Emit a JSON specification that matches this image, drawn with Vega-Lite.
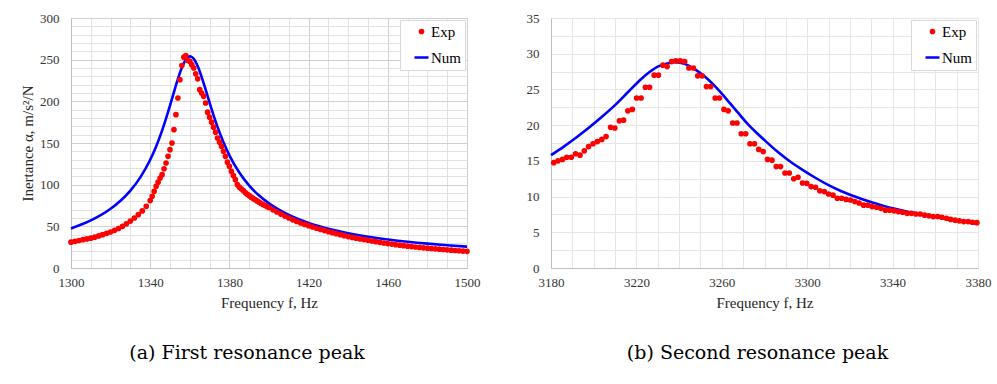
{
  "$schema": "https://vega.github.io/schema/vega-lite/v6.json",
  "background": "white",
  "padding": {"left": 20, "top": 11, "right": 5, "bottom": 5},
  "config": {
    "font": "Liberation Serif",
    "view": {"stroke": "#d9d9d9", "strokeWidth": 1},
    "axis": {
      "labelFont": "Liberation Serif", "labelFontSize": 13, "labelColor": "#333333",
      "titleFont": "Liberation Serif", "titleFontSize": 15, "titleFontWeight": "normal", "titleColor": "#262626",
      "ticks": false, "tickSize": 0, "domainColor": "#bfbfbf", "domainWidth": 1,
      "labelOverlap": false, "labelFlush": false, "gridWidth": 1, "format": "d"
    },
    "legend": {
      "orient": "top-right", "offset": 2, "padding": 4, "rowPadding": 9,
      "strokeColor": "#d9d9d9", "fillColor": "#ffffff",
      "labelFont": "Liberation Serif", "labelFontSize": 15, "labelColor": "#000000",
      "labelOffset": 1, "symbolOffset": 9, "symbolStrokeWidth": 2.5
    },
    "title": {"font": "DejaVu Serif", "fontSize": 19, "fontWeight": "normal", "color": "#000000"}
  },
  "datasets": {
    "a": [
      {"s":"Num","f":1300,"v":47.5},{"s":"Num","f":1310,"v":57.1},{"s":"Num","f":1320,"v":71.1},{"s":"Num","f":1325,"v":80.7},
      {"s":"Num","f":1330,"v":92.9},{"s":"Num","f":1335,"v":108.8},{"s":"Num","f":1340,"v":129.9},{"s":"Num","f":1343,"v":145.9},
      {"s":"Num","f":1346,"v":164.9},{"s":"Num","f":1349,"v":187.0},{"s":"Num","f":1352,"v":211.1},{"s":"Num","f":1354,"v":226.9},
      {"s":"Num","f":1356,"v":240.6},{"s":"Num","f":1358,"v":250.2},{"s":"Num","f":1359,"v":252.9},{"s":"Num","f":1360,"v":253.9},
      {"s":"Num","f":1361,"v":253.2},{"s":"Num","f":1362,"v":250.9},{"s":"Num","f":1364,"v":242.1},{"s":"Num","f":1366,"v":229.1},
      {"s":"Num","f":1368,"v":214.0},{"s":"Num","f":1371,"v":190.7},{"s":"Num","f":1374,"v":169.3},{"s":"Num","f":1377,"v":150.8},
      {"s":"Num","f":1380,"v":135.2},{"s":"Num","f":1385,"v":114.5},{"s":"Num","f":1390,"v":98.9},{"s":"Num","f":1395,"v":86.9},
      {"s":"Num","f":1400,"v":77.5},{"s":"Num","f":1410,"v":63.6},{"s":"Num","f":1420,"v":54.1},{"s":"Num","f":1430,"v":47.1},
      {"s":"Num","f":1440,"v":41.8},{"s":"Num","f":1450,"v":37.6},{"s":"Num","f":1460,"v":34.3},{"s":"Num","f":1470,"v":31.5},
      {"s":"Num","f":1480,"v":29.2},{"s":"Num","f":1490,"v":27.3},{"s":"Num","f":1500,"v":25.6},
      {"s":"Exp","f":1300,"v":31},{"s":"Exp","f":1302,"v":32},{"s":"Exp","f":1304,"v":33},{"s":"Exp","f":1306,"v":34},
      {"s":"Exp","f":1308,"v":34.9},{"s":"Exp","f":1310,"v":35.8},{"s":"Exp","f":1312,"v":37},{"s":"Exp","f":1314,"v":38.5},
      {"s":"Exp","f":1316,"v":40},{"s":"Exp","f":1318,"v":41.6},{"s":"Exp","f":1320,"v":43.2},{"s":"Exp","f":1322,"v":45.2},
      {"s":"Exp","f":1324,"v":47.4},{"s":"Exp","f":1326,"v":50},{"s":"Exp","f":1328,"v":53},{"s":"Exp","f":1330,"v":56.3},
      {"s":"Exp","f":1332,"v":60},{"s":"Exp","f":1334,"v":64},{"s":"Exp","f":1336,"v":68.5},{"s":"Exp","f":1338,"v":74},
      {"s":"Exp","f":1340,"v":81},{"s":"Exp","f":1341,"v":86},{"s":"Exp","f":1342,"v":92},{"s":"Exp","f":1343,"v":98},
      {"s":"Exp","f":1344,"v":103},{"s":"Exp","f":1345,"v":108},{"s":"Exp","f":1346,"v":112},{"s":"Exp","f":1347,"v":119},
      {"s":"Exp","f":1348,"v":126},{"s":"Exp","f":1349,"v":134},{"s":"Exp","f":1350,"v":142},{"s":"Exp","f":1351,"v":150},
      {"s":"Exp","f":1352,"v":166},{"s":"Exp","f":1353,"v":184},{"s":"Exp","f":1354,"v":204},{"s":"Exp","f":1355,"v":226},
      {"s":"Exp","f":1356,"v":243},{"s":"Exp","f":1357,"v":253},{"s":"Exp","f":1358,"v":255},{"s":"Exp","f":1359,"v":249},
      {"s":"Exp","f":1360,"v":248},{"s":"Exp","f":1361,"v":244},{"s":"Exp","f":1362,"v":240},{"s":"Exp","f":1363,"v":233},
      {"s":"Exp","f":1364,"v":227},{"s":"Exp","f":1365,"v":214},{"s":"Exp","f":1366,"v":210},{"s":"Exp","f":1367,"v":206},
      {"s":"Exp","f":1368,"v":198},{"s":"Exp","f":1369,"v":187},{"s":"Exp","f":1370,"v":181},{"s":"Exp","f":1371,"v":175},
      {"s":"Exp","f":1372,"v":169},{"s":"Exp","f":1373,"v":163},{"s":"Exp","f":1374,"v":156},{"s":"Exp","f":1375,"v":151},
      {"s":"Exp","f":1376,"v":146},{"s":"Exp","f":1377,"v":140},{"s":"Exp","f":1378,"v":134},{"s":"Exp","f":1379,"v":127},
      {"s":"Exp","f":1380,"v":122},{"s":"Exp","f":1381,"v":116},{"s":"Exp","f":1382,"v":111},{"s":"Exp","f":1383,"v":106},
      {"s":"Exp","f":1384,"v":100},{"s":"Exp","f":1385,"v":97},{"s":"Exp","f":1386,"v":95},{"s":"Exp","f":1387,"v":93},
      {"s":"Exp","f":1388,"v":90.5},{"s":"Exp","f":1389,"v":88.5},{"s":"Exp","f":1390,"v":86.8},{"s":"Exp","f":1391,"v":85},
      {"s":"Exp","f":1392,"v":83.5},{"s":"Exp","f":1393,"v":82},{"s":"Exp","f":1394,"v":80.5},{"s":"Exp","f":1395,"v":79},
      {"s":"Exp","f":1396,"v":77.5},{"s":"Exp","f":1397,"v":76.2},{"s":"Exp","f":1398,"v":75},{"s":"Exp","f":1399,"v":73.7},
      {"s":"Exp","f":1400,"v":72.5},{"s":"Exp","f":1402,"v":69.8},{"s":"Exp","f":1404,"v":67.2},{"s":"Exp","f":1406,"v":64.7},
      {"s":"Exp","f":1408,"v":62.3},{"s":"Exp","f":1410,"v":60},{"s":"Exp","f":1412,"v":57.8},{"s":"Exp","f":1414,"v":55.8},
      {"s":"Exp","f":1416,"v":54},{"s":"Exp","f":1418,"v":52.3},{"s":"Exp","f":1420,"v":50.8},{"s":"Exp","f":1422,"v":49.2},
      {"s":"Exp","f":1424,"v":47.7},{"s":"Exp","f":1426,"v":46.3},{"s":"Exp","f":1428,"v":44.9},{"s":"Exp","f":1430,"v":43.6},
      {"s":"Exp","f":1432,"v":42.4},{"s":"Exp","f":1434,"v":41.2},{"s":"Exp","f":1436,"v":40},{"s":"Exp","f":1438,"v":38.8},
      {"s":"Exp","f":1440,"v":37.7},{"s":"Exp","f":1442,"v":36.7},{"s":"Exp","f":1444,"v":35.8},{"s":"Exp","f":1446,"v":34.9},
      {"s":"Exp","f":1448,"v":34.1},{"s":"Exp","f":1450,"v":33.3},{"s":"Exp","f":1452,"v":32.4},{"s":"Exp","f":1454,"v":31.6},
      {"s":"Exp","f":1456,"v":30.8},{"s":"Exp","f":1458,"v":30},{"s":"Exp","f":1460,"v":29.3},{"s":"Exp","f":1462,"v":28.7},
      {"s":"Exp","f":1464,"v":28},{"s":"Exp","f":1466,"v":27.4},{"s":"Exp","f":1468,"v":26.8},{"s":"Exp","f":1470,"v":26.2},
      {"s":"Exp","f":1472,"v":25.7},{"s":"Exp","f":1474,"v":25.2},{"s":"Exp","f":1476,"v":24.7},{"s":"Exp","f":1478,"v":24.2},
      {"s":"Exp","f":1480,"v":23.8},{"s":"Exp","f":1482,"v":23.4},{"s":"Exp","f":1484,"v":23},{"s":"Exp","f":1486,"v":22.6},
      {"s":"Exp","f":1488,"v":22.2},{"s":"Exp","f":1490,"v":21.8},{"s":"Exp","f":1492,"v":21.4},{"s":"Exp","f":1494,"v":21},
      {"s":"Exp","f":1496,"v":20.7},{"s":"Exp","f":1498,"v":20.3},{"s":"Exp","f":1500,"v":20}
    ],
    "b": [
      {"s":"Num","f":3180,"v":15.8},{"s":"Num","f":3186,"v":17.0},{"s":"Num","f":3192,"v":18.3},{"s":"Num","f":3198,"v":19.7},
      {"s":"Num","f":3204,"v":21.2},{"s":"Num","f":3210,"v":22.8},{"s":"Num","f":3216,"v":24.6},{"s":"Num","f":3222,"v":26.4},
      {"s":"Num","f":3226,"v":27.4},{"s":"Num","f":3230,"v":28.2},{"s":"Num","f":3234,"v":28.6},{"s":"Num","f":3238,"v":28.8},
      {"s":"Num","f":3241,"v":28.7},{"s":"Num","f":3244,"v":28.4},{"s":"Num","f":3248,"v":27.7},{"s":"Num","f":3252,"v":26.8},
      {"s":"Num","f":3256,"v":25.7},{"s":"Num","f":3260,"v":24.4},{"s":"Num","f":3264,"v":23.0},{"s":"Num","f":3268,"v":21.6},
      {"s":"Num","f":3272,"v":20.2},{"s":"Num","f":3276,"v":19.0},{"s":"Num","f":3280,"v":17.9},{"s":"Num","f":3286,"v":16.3},
      {"s":"Num","f":3292,"v":14.9},{"s":"Num","f":3298,"v":13.7},{"s":"Num","f":3304,"v":12.6},{"s":"Num","f":3310,"v":11.6},
      {"s":"Num","f":3316,"v":10.75},{"s":"Num","f":3322,"v":10.05},{"s":"Num","f":3328,"v":9.4},{"s":"Num","f":3334,"v":8.85},
      {"s":"Num","f":3340,"v":8.35},{"s":"Num","f":3346,"v":7.95},{"s":"Num","f":3352,"v":7.6},{"s":"Num","f":3358,"v":7.25},
      {"s":"Num","f":3364,"v":6.95},{"s":"Num","f":3370,"v":6.65},{"s":"Num","f":3376,"v":6.35},{"s":"Num","f":3380,"v":6.15},
      {"s":"Exp","f":3181.3,"v":14.75},{"s":"Exp","f":3183.3,"v":15.0},{"s":"Exp","f":3185.4,"v":15.2},{"s":"Exp","f":3187.4,"v":15.5},
      {"s":"Exp","f":3189.5,"v":15.5},{"s":"Exp","f":3191.5,"v":16.0},{"s":"Exp","f":3193.6,"v":15.8},{"s":"Exp","f":3195.6,"v":16.4},
      {"s":"Exp","f":3197.6,"v":17.0},{"s":"Exp","f":3199.7,"v":17.4},{"s":"Exp","f":3201.7,"v":17.7},{"s":"Exp","f":3203.8,"v":18.0},
      {"s":"Exp","f":3205.8,"v":18.4},{"s":"Exp","f":3207.9,"v":19.7},{"s":"Exp","f":3209.9,"v":19.6},{"s":"Exp","f":3212.0,"v":20.6},
      {"s":"Exp","f":3214.0,"v":20.7},{"s":"Exp","f":3216.0,"v":22.0},{"s":"Exp","f":3218.1,"v":22.2},{"s":"Exp","f":3220.1,"v":23.8},
      {"s":"Exp","f":3222.2,"v":23.8},{"s":"Exp","f":3224.2,"v":25.3},{"s":"Exp","f":3226.2,"v":25.3},{"s":"Exp","f":3228.3,"v":27.0},
      {"s":"Exp","f":3230.3,"v":27.0},{"s":"Exp","f":3232.4,"v":28.4},{"s":"Exp","f":3234.4,"v":28.2},{"s":"Exp","f":3236.5,"v":28.9},
      {"s":"Exp","f":3238.5,"v":29.0},{"s":"Exp","f":3240.5,"v":29.0},{"s":"Exp","f":3242.6,"v":28.9},{"s":"Exp","f":3244.6,"v":28.0},
      {"s":"Exp","f":3246.7,"v":28.0},{"s":"Exp","f":3248.7,"v":26.9},{"s":"Exp","f":3250.8,"v":26.9},{"s":"Exp","f":3252.8,"v":25.4},
      {"s":"Exp","f":3254.8,"v":25.4},{"s":"Exp","f":3256.9,"v":23.8},{"s":"Exp","f":3258.9,"v":23.8},{"s":"Exp","f":3261.0,"v":22.2},
      {"s":"Exp","f":3263.0,"v":22.0},{"s":"Exp","f":3265.1,"v":20.3},{"s":"Exp","f":3267.1,"v":20.3},{"s":"Exp","f":3269.1,"v":18.8},
      {"s":"Exp","f":3271.2,"v":18.8},{"s":"Exp","f":3273.2,"v":17.4},{"s":"Exp","f":3275.3,"v":17.4},{"s":"Exp","f":3277.3,"v":16.6},
      {"s":"Exp","f":3279.4,"v":16.3},{"s":"Exp","f":3281.4,"v":15.2},{"s":"Exp","f":3283.5,"v":15.1},{"s":"Exp","f":3285.5,"v":14.2},
      {"s":"Exp","f":3287.5,"v":14.2},{"s":"Exp","f":3289.6,"v":13.3},{"s":"Exp","f":3291.6,"v":13.3},{"s":"Exp","f":3293.7,"v":12.5},
      {"s":"Exp","f":3295.7,"v":12.7},{"s":"Exp","f":3297.8,"v":11.9},{"s":"Exp","f":3299.8,"v":11.85},{"s":"Exp","f":3301.8,"v":11.4},
      {"s":"Exp","f":3303.9,"v":11.3},{"s":"Exp","f":3305.9,"v":10.8},{"s":"Exp","f":3308.0,"v":10.7},{"s":"Exp","f":3310.0,"v":10.36},
      {"s":"Exp","f":3312.1,"v":10.2},{"s":"Exp","f":3314.1,"v":9.76},{"s":"Exp","f":3316.1,"v":9.76},{"s":"Exp","f":3318.2,"v":9.6},
      {"s":"Exp","f":3320.2,"v":9.52},{"s":"Exp","f":3322.3,"v":9.3},{"s":"Exp","f":3324.3,"v":9.1},{"s":"Exp","f":3326.4,"v":8.8},
      {"s":"Exp","f":3328.4,"v":8.8},{"s":"Exp","f":3330.4,"v":8.6},{"s":"Exp","f":3332.5,"v":8.5},{"s":"Exp","f":3334.5,"v":8.35},
      {"s":"Exp","f":3336.6,"v":8.1},{"s":"Exp","f":3338.6,"v":8.1},{"s":"Exp","f":3340.7,"v":8.0},{"s":"Exp","f":3342.7,"v":7.9},
      {"s":"Exp","f":3344.7,"v":7.8},{"s":"Exp","f":3346.8,"v":7.65},{"s":"Exp","f":3348.8,"v":7.65},{"s":"Exp","f":3350.9,"v":7.56},
      {"s":"Exp","f":3352.9,"v":7.56},{"s":"Exp","f":3355.0,"v":7.4},{"s":"Exp","f":3357.0,"v":7.3},{"s":"Exp","f":3359.0,"v":7.2},
      {"s":"Exp","f":3361.1,"v":7.2},{"s":"Exp","f":3363.1,"v":7.1},{"s":"Exp","f":3365.2,"v":6.96},{"s":"Exp","f":3367.2,"v":6.8},
      {"s":"Exp","f":3369.3,"v":6.7},{"s":"Exp","f":3371.3,"v":6.6},{"s":"Exp","f":3373.3,"v":6.5},{"s":"Exp","f":3375.4,"v":6.5},
      {"s":"Exp","f":3377.4,"v":6.4},{"s":"Exp","f":3379.5,"v":6.35}
    ]
  },
  "spacing": 44,
  "resolve": {
    "scale": {"x": "independent", "y": "independent", "color": "independent", "stroke": "independent", "shape": "independent", "size": "independent"},
    "legend": {"color": "independent", "stroke": "independent", "shape": "independent", "size": "independent"}
  },
  "hconcat": [
    {
      "width": 396, "height": 250,
      "data": {"name": "a"},
      "title": {"text": "(a) First resonance peak", "orient": "bottom", "offset": 34, "dx": -22, "anchor": "middle", "font": "DejaVu Serif", "fontSize": 19},
      "encoding": {
        "x": {"field": "f", "type": "quantitative",
          "scale": {"domain": [1300, 1500], "nice": false, "zero": false},
          "axis": {"title": "Frequency f, Hz", "format": "d", "labelFont": "Liberation Serif", "titleFont": "Liberation Serif",
            "values": [1300,1310,1320,1330,1340,1350,1360,1370,1380,1390,1400,1410,1420,1430,1440,1450,1460,1470,1480,1490,1500],
            "labelExpr": "datum.value % 40 == 20 ? datum.label : ''",
            "gridColor": {"condition": {"test": "datum.value % 40 == 20", "value": "#d0d0d0"}, "value": "#e2e2e2"},
            "labelPadding": 8, "titlePadding": 6}},
        "y": {"field": "v", "type": "quantitative",
          "scale": {"domain": [0, 300], "nice": false},
          "axis": {"title": "Inertance α, m/s²/N", "format": "d", "labelFont": "Liberation Serif", "titleFont": "Liberation Serif",
            "values": [0,10,20,30,40,50,60,70,80,90,100,110,120,130,140,150,160,170,180,190,200,210,220,230,240,250,260,270,280,290,300],
            "labelExpr": "datum.value % 50 == 0 ? datum.label : ''",
            "gridColor": {"condition": {"test": "datum.value % 50 == 0", "value": "#d0d0d0"}, "value": "#e2e2e2"},
            "labelPadding": 12, "titlePadding": 4}}
      },
      "layer": [
        {"transform": [{"filter": "datum.s == 'Num'"}],
         "mark": {"type": "line", "color": "#0000ff", "strokeWidth": 2.6, "interpolate": "monotone"}},
        {"transform": [{"filter": "datum.s == 'Exp'"}],
         "mark": {"type": "point", "filled": true, "opacity": 1, "strokeWidth": 2.5},
         "encoding": {
           "color": {"field": "s", "type": "nominal", "scale": {"domain": ["Exp", "Num"], "range": ["#ff0000", "#0000ff"]}, "legend": {"title": null, "labelExpr": "datum.label + '\u00a0\u00a0'"}},
           "stroke": {"field": "s", "type": "nominal", "scale": {"domain": ["Exp", "Num"], "range": ["#ff0000", "#0000ff"]}, "legend": {"title": null, "labelExpr": "datum.label + '\u00a0\u00a0'"}},
           "shape": {"field": "s", "type": "nominal", "scale": {"domain": ["Exp", "Num"], "range": ["circle", "stroke"]}, "legend": {"title": null, "labelExpr": "datum.label + '\u00a0\u00a0'"}},
           "size": {"field": "s", "type": "nominal", "scale": {"type": "ordinal", "domain": ["Exp", "Num"], "range": [10, 196]}, "legend": {"title": null, "labelExpr": "datum.label + '\u00a0\u00a0'"}}
         }}
      ]
    },
    {
      "width": 427, "height": 250,
      "data": {"name": "b"},
      "title": {"text": "(b) Second resonance peak", "orient": "bottom", "offset": 34, "dx": -7, "anchor": "middle", "font": "DejaVu Serif", "fontSize": 19},
      "encoding": {
        "x": {"field": "f", "type": "quantitative",
          "scale": {"domain": [3180, 3380], "nice": false, "zero": false},
          "axis": {"title": "Frequency f, Hz", "format": "d", "labelFont": "Liberation Serif", "titleFont": "Liberation Serif",
            "values": [3180,3190,3200,3210,3220,3230,3240,3250,3260,3270,3280,3290,3300,3310,3320,3330,3340,3350,3360,3370,3380],
            "labelExpr": "datum.value % 40 == 20 ? datum.label : ''",
            "gridColor": "#e6e6e6",
            "labelPadding": 8, "titlePadding": 6}},
        "y": {"field": "v", "type": "quantitative",
          "scale": {"domain": [0, 35], "nice": false},
          "axis": {"title": null, "labelFont": "Liberation Serif",
            "values": [0,2.5,5,7.5,10,12.5,15,17.5,20,22.5,25,27.5,30,32.5,35],
            "labelExpr": "datum.value % 5 == 0 ? format(datum.value, 'd') : ''",
            "gridColor": "#e6e6e6",
            "labelPadding": 12}}
      },
      "layer": [
        {"transform": [{"filter": "datum.s == 'Num'"}],
         "mark": {"type": "line", "color": "#0000ff", "strokeWidth": 2.6, "interpolate": "monotone"}},
        {"transform": [{"filter": "datum.s == 'Exp'"}],
         "mark": {"type": "point", "filled": true, "opacity": 1, "strokeWidth": 2.5},
         "encoding": {
           "color": {"field": "s", "type": "nominal", "scale": {"domain": ["Exp", "Num"], "range": ["#ff0000", "#0000ff"]}, "legend": {"title": null, "labelExpr": "datum.label + '\u00a0\u00a0'"}},
           "stroke": {"field": "s", "type": "nominal", "scale": {"domain": ["Exp", "Num"], "range": ["#ff0000", "#0000ff"]}, "legend": {"title": null, "labelExpr": "datum.label + '\u00a0\u00a0'"}},
           "shape": {"field": "s", "type": "nominal", "scale": {"domain": ["Exp", "Num"], "range": ["circle", "stroke"]}, "legend": {"title": null, "labelExpr": "datum.label + '\u00a0\u00a0'"}},
           "size": {"field": "s", "type": "nominal", "scale": {"type": "ordinal", "domain": ["Exp", "Num"], "range": [10, 196]}, "legend": {"title": null, "labelExpr": "datum.label + '\u00a0\u00a0'"}}
         }}
      ]
    }
  ]
}
